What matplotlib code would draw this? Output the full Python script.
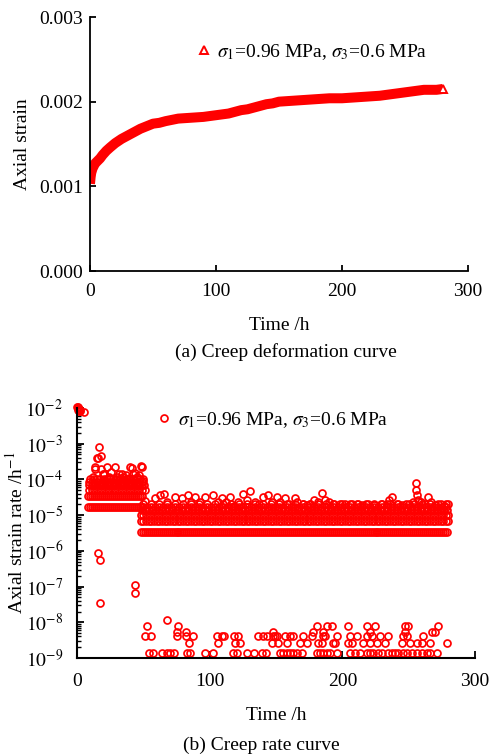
import numpy as np
import matplotlib
matplotlib.use("Agg")
import matplotlib.pyplot as plt
from matplotlib.ticker import FixedLocator, LogLocator, NullFormatter

plt.rcParams['font.family'] = ['Liberation Serif', 'DejaVu Serif']
plt.rcParams['mathtext.fontset'] = 'stix'
plt.rcParams['font.size'] = 14

RED = '#ff0000'
LEGEND_LABEL = r'$\sigma_1$=0.96 MPa, $\sigma_3$=0.6 MPa'

# ---------------- (a) creep deformation data ----------------
strain_time = [0, 0.5, 1, 2, 3, 4, 6, 8, 10, 13, 16, 20, 25, 30, 35, 40, 45, 50, 55, 60,
               70, 80, 90, 100, 110, 115, 120, 125, 130, 135, 140, 145, 150, 160, 170, 180,
               190, 200, 210, 220, 230, 240, 245, 250, 255, 260, 265, 270, 275, 280]
strain_value = [0.00103, 0.00111, 0.00116, 0.00121, 0.00124, 0.00127, 0.00130, 0.00133, 0.00137,
                0.00142, 0.00146, 0.00151, 0.00156, 0.00160, 0.00164, 0.00168, 0.00171, 0.00174,
                0.00175, 0.00177, 0.00180, 0.00181, 0.00182, 0.00184, 0.00186, 0.00188, 0.00190,
                0.00191, 0.00193, 0.00195, 0.00197, 0.00198, 0.00200, 0.00201, 0.00202, 0.00203,
                0.00204, 0.00204, 0.00205, 0.00206, 0.00207, 0.00209, 0.00210, 0.00211, 0.00212,
                0.00213, 0.00214, 0.00214, 0.00214, 0.00215]
strain_yticks = [0.000, 0.001, 0.002, 0.003]
time_ticks = [0, 100, 200, 300]

# ---------------- (b) creep rate data ----------------
# initial (instantaneous) rates
init_t = [0.2, 0.5, 0.8, 1.0, 1.3, 1.6, 2.0, 2.4, 5.4]
init_v = [1.1e-2, 1.0e-2, 9.0e-3, 1.05e-2, 8.5e-3, 9.5e-3, 8.2e-3, 9.0e-3, 7.8e-3]
# isolated low rates in the early stage
iso_t = [16.0, 17.3, 17.3, 43.7, 43.7]
iso_v = [8.9e-7, 5.5e-7, 3.5e-8, 1.1e-7, 6.7e-8]
# quantised dense rows: (rate level, start h, end h, sampling h)
band_level = [1.74e-5, 3.48e-5, 5.22e-5, 6.96e-5, 8.70e-5, 1.04e-4,
              3.4e-6, 6.8e-6, 1.02e-5, 1.36e-5, 1.70e-5, 2.04e-5]
band_start = [8.5, 8.5, 9, 9, 9, 10,
              48, 48, 48, 49, 50, 50]
band_end = [50, 50, 50, 50, 50, 49,
            280, 280, 280, 280, 280, 280]
band_step = [1.5, 1.5, 2, 2, 2, 2.5,
             1.5, 2, 2, 2.5, 3, 6]
# early-stage high outliers
early_out_t = [12, 13.5, 13.6, 14.8, 16, 16.8, 17.8, 18, 19.6, 20, 22.4, 24, 26, 28.6, 30, 32,
               33.7, 35, 37, 39, 40, 41.5, 42, 43.5, 45, 47, 48, 49, 49.5, 50, 50.5, 51, 51.5]
early_out_v = [1.2e-4, 2.0e-4, 2.3e-4, 4.0e-4, 3.9e-4, 8.0e-4, 4.6e-4, 2.0e-4, 1.4e-4, 1.4e-4,
               2.3e-4, 1.2e-4, 1.6e-4, 2.3e-4, 1.2e-4, 1.4e-4, 1.4e-4, 1.2e-4, 1.3e-4, 1.1e-4,
               2.3e-4, 2.1e-4, 1.4e-4, 1.5e-4, 1.2e-4, 1.3e-4, 2.4e-4, 2.3e-4, 1.0e-4, 9.0e-5,
               7.0e-5, 5.0e-5, 2.5e-5]
# later-stage high outliers
late_out_t = [58.7, 62.7, 65.5, 68, 74.1, 79, 84, 86, 89, 93, 96.5, 102.7, 106, 109, 112, 115.3,
              118, 121, 125.3, 128, 130.3, 134, 137, 140.5, 144.3, 147, 150.5, 153, 156.8, 160,
              164.4, 166, 170, 173, 176, 179, 182, 185, 187, 190, 193, 198, 202, 207, 211, 214.5,
              219, 224, 229, 233.4, 235, 237.1, 241, 245, 250, 253, 255.7, 255.9, 256.2, 257,
              259, 262, 264.7, 267, 270, 274, 277, 279.8]
late_out_v = [3.0e-5, 3.6e-5, 4.0e-5, 2.4e-5, 3.2e-5, 3.0e-5, 3.6e-5, 2.4e-5, 3.2e-5, 2.4e-5,
              3.2e-5, 3.6e-5, 2.4e-5, 3.0e-5, 2.4e-5, 3.2e-5, 1.8e-5, 2.4e-5, 4.0e-5, 2.7e-5,
              4.6e-5, 2.4e-5, 2.0e-5, 3.2e-5, 3.6e-5, 2.4e-5, 3.2e-5, 2.4e-5, 3.0e-5, 2.0e-5,
              3.0e-5, 2.4e-5, 2.0e-5, 1.9e-5, 2.0e-5, 2.6e-5, 2.4e-5, 4.1e-5, 2.7e-5, 2.4e-5,
              2.0e-5, 2.1e-5, 2.0e-5, 2.1e-5, 2.0e-5, 1.9e-5, 2.1e-5, 1.9e-5, 2.0e-5, 2.1e-5,
              2.7e-5, 3.2e-5, 2.0e-5, 1.9e-5, 2.0e-5, 2.4e-5, 8.1e-5, 5.0e-5, 3.6e-5, 2.7e-5,
              2.4e-5, 2.0e-5, 3.2e-5, 2.4e-5, 1.9e-5, 2.0e-5, 1.8e-5, 2.1e-5]
# very low quantised rates (steady stage)
low1_t = [54.3, 57.5, 63.8, 67.6, 70.1, 73.1, 82.7, 85.2, 96.5, 102.8, 117.3, 120.3, 127.8, 133.3,
          139.2, 142.4, 153, 155.5, 158, 160.5, 163, 165.6, 169.3, 180.6, 183, 185.6, 188.2, 190.7,
          195.7, 205.7, 209.5, 213.3, 218.3, 220.8, 223.3, 227, 229.6, 234.6, 237.1, 239.6, 242.1,
          245.9, 248.5, 252.2, 256, 259.8, 263.5, 266, 271]
low1_v = 1.35e-9
low2_t = [84.6, 106.5, 119, 122.8, 146.7, 151.7, 158, 168, 173, 181.8, 184.4, 193.2, 194.4, 204.5,
          207, 215.8, 220.8, 225.8, 232.1, 244.7, 250.9, 256, 259.8, 266, 278.6]
low2_v = 2.7e-9
low3_t = [51.2, 55.5, 75.6, 82.1, 87.2, 105.3, 109, 110.8, 118.3, 121.5, 136.7, 140.5, 142.9, 147.9,
          149.2, 150.5, 156.7, 160.5, 163, 170.6, 176.9, 185.6, 186.9, 195.7, 205.7, 210.8, 218.3,
          222.1, 228.3, 234.6, 245.9, 248.5, 261]
low3_v = 4.05e-9
low4_t = [75.6, 82, 148, 178.1, 185.6, 220.8, 247.2, 267.8, 269.8]
low4_v = 5.4e-9
low6_t = [52.5, 76.4, 180.6, 188.2, 191.9, 204.5, 218.5, 224.6, 247, 249.5, 272.3]
low6_v = 8.1e-9
low8_t = [68]
low8_v = 1.15e-8
rate_yticks = [1e-9, 1e-8, 1e-7, 1e-6, 1e-5, 1e-4, 1e-3, 1e-2]
rate_ylabels = [r'$10^{-9}$', r'$10^{-8}$', r'$10^{-7}$', r'$10^{-6}$',
                r'$10^{-5}$', r'$10^{-4}$', r'$10^{-3}$', r'$10^{-2}$']

# assemble rate series
rt, rv = [], []
for lv, t0, t1, st in zip(band_level, band_start, band_end, band_step):
    tt = np.arange(t0, t1 + 1e-9, st)
    rt.extend(tt)
    rv.extend([lv] * len(tt))
for tl, vl in [(low1_t, low1_v), (low2_t, low2_v), (low3_t, low3_v), (low4_t, low4_v),
               (low6_t, low6_v), (low8_t, low8_v)]:
    rt.extend(tl)
    rv.extend([vl] * len(tl))
for tl, vl in [(init_t, init_v), (iso_t, iso_v), (early_out_t, early_out_v),
               (late_out_t, late_out_v)]:
    rt.extend(tl)
    rv.extend(vl)

W, H = 491, 756
fig = plt.figure(figsize=(W / 100, H / 100), dpi=100)

def fx(px):
    return px / W

def fy(py):
    return 1 - py / H

# ---------- top panel ----------
ax1 = fig.add_axes([fx(90), fy(271), fx(468) - fx(90), fy(17) - fy(271)])
ax1.plot(strain_time, strain_value, color=RED, lw=7.2, solid_capstyle='butt',
         solid_joinstyle='round')
ax1.plot(strain_time[-1:], strain_value[-1:], '^', color=RED, mfc='white', mec=RED,
         ms=6, mew=1.4, clip_on=False, label=LEGEND_LABEL)
ax1.set_xlim(0, 300)
ax1.set_ylim(0, 0.003)
ax1.xaxis.set_major_locator(FixedLocator(time_ticks))
ax1.yaxis.set_major_locator(FixedLocator(strain_yticks))
ax1.set_yticklabels(['%.3f' % v for v in strain_yticks])
for s in ['top', 'right']:
    ax1.spines[s].set_visible(False)
for s in ['left', 'bottom']:
    ax1.spines[s].set_linewidth(1.3)
ax1.tick_params(direction='in', length=4, width=1.3, labelsize=14)
ax1.tick_params(axis='x', pad=9)
ax1.tick_params(axis='y', pad=5)
ax1.set_xlabel('Time /h', fontsize=14, labelpad=12)
ax1.set_ylabel('Axial strain', fontsize=14, labelpad=6)
ax1.legend(loc='center left', bbox_to_anchor=(0.285, 0.862), frameon=False, fontsize=14,
           handlelength=0.6, handletextpad=0.4, borderpad=0, borderaxespad=0)
fig.text(fx(286), fy(352), '(a) Creep deformation curve', ha='center', va='center',
         fontsize=14)

# ---------- bottom panel ----------
ax2 = fig.add_axes([fx(77), fy(658), fx(475) - fx(77), fy(408) - fy(658)])
ax2.plot(rt, rv, 'o', ls='none', mfc='none', mec=RED, ms=5, mew=1.25, clip_on=False,
         label=LEGEND_LABEL)
ax2.set_yscale('log')
ax2.set_xlim(0, 300)
ax2.set_ylim(1e-9, 1e-2)
ax2.xaxis.set_major_locator(FixedLocator(time_ticks))
ax2.yaxis.set_major_locator(FixedLocator(rate_yticks))
ax2.set_yticklabels(rate_ylabels)
ax2.yaxis.set_minor_locator(LogLocator(base=10, subs=np.arange(2, 10), numticks=20))
ax2.yaxis.set_minor_formatter(NullFormatter())
for s in ['top', 'right']:
    ax2.spines[s].set_visible(False)
for s in ['left', 'bottom']:
    ax2.spines[s].set_linewidth(1.5)
ax2.tick_params(which='major', direction='in', length=5, width=1.3, labelsize=14)
ax2.tick_params(axis='x', which='major', pad=11)
ax2.tick_params(axis='y', which='major', pad=10)
ax2.tick_params(which='minor', direction='in', length=3, width=1.0)
ax2.set_xlabel('Time /h', fontsize=14, labelpad=12)
ax2.set_ylabel(r'Axial strain rate /h$^{-1}$', fontsize=14)
ax2.yaxis.set_label_coords(-0.128, 0.5)
ax2.legend(loc='center left', bbox_to_anchor=(0.205, 0.952), frameon=False, fontsize=14,
           handlelength=0.6, handletextpad=0.4, borderpad=0, borderaxespad=0)
fig.text(fx(261), fy(745), '(b) Creep rate curve', ha='center', va='center', fontsize=14)

fig.savefig('out.png', dpi=100)
